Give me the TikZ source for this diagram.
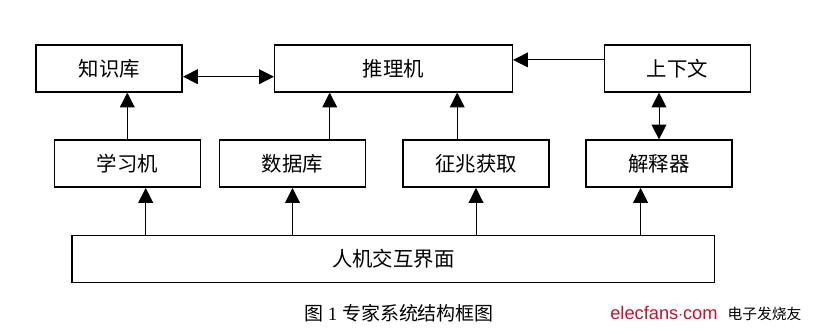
\documentclass[tikz,border=0pt]{standalone}
\usepackage{fontspec}
\setmainfont{Liberation Serif}
\newfontfamily\cjk{Noto Sans CJK SC}
\newfontfamily\wmsans{Liberation Sans}
\usetikzlibrary{arrows.meta}
\definecolor{wmred}{RGB}{200,16,46}

\begin{document}
\begin{tikzpicture}[x=0.025cm, y=-0.025cm,
    box/.style={draw, line width=1.1pt, minimum width=3.65cm, minimum height=1.175cm, inner sep=0pt, font=\cjk\fontsize{14.5}{17}\selectfont},
    arr/.style={line width=0.7pt, -{Triangle[length=0.37cm, width=0.37cm]}},
    darr/.style={line width=0.7pt, {Triangle[length=0.37cm, width=0.37cm]}-{Triangle[length=0.37cm, width=0.37cm]}}]
    \useasboundingbox (0, 0) rectangle (813, 334);
    \node[box] (zsk) at (109.2, 68.3) {知识库};
    \node[box, minimum width=5.94cm] (tlj) at (393.5, 68.3) {推理机};
    \node[box] (sxw) at (677.3, 68.3) {上下文};
    \node[box] (xxj) at (127.3, 163.7) {学习机};
    \node[box] (sjk) at (292.5, 163.7) {数据库};
    \node[box] (zzh) at (476, 163.7) {征兆获取};
    \node[box] (jsq) at (659, 163.7) {解释器};
    \node[box, minimum width=16.05cm] (rjj) at (393.3, 259.2) {人机交互界面};
    \draw[darr] ([yshift=-0.21cm]zsk.east) -- ([yshift=-0.21cm]tlj.west);
    \draw[arr] ([yshift=0.21cm]sxw.west) -- ([yshift=0.21cm]tlj.east);
    \draw[arr] (xxj.north) -- (xxj.north |- zsk.south);
    \coordinate (s1) at ([xshift=0.93cm]sjk.north);
    \draw[arr] (s1) -- (s1 |- tlj.south);
    \coordinate (z1) at ([xshift=-0.47cm]zzh.north);
    \draw[arr] (z1) -- (z1 |- tlj.south);
    \draw[darr] (jsq.north) -- (jsq.north |- sxw.south);
    \coordinate (b1) at ([xshift=0.46cm]xxj.south);
    \draw[arr] (b1 |- rjj.north) -- (b1);
    \draw[arr] (sjk.south |- rjj.north) -- (sjk.south);
    \draw[arr] (zzh.south |- rjj.north) -- (zzh.south);
    \coordinate (b4) at ([xshift=-0.46cm]jsq.south);
    \draw[arr] (b4 |- rjj.north) -- (b4);
    \node[font=\fontsize{13.5}{16}\selectfont] (cap) at (399, 313) {{\cjk 图} 1 {\cjk 专家系统结构框图}};
    \node[anchor=west, inner sep=0pt] (wm) at (610, 313) {{\wmsans\fontsize{13}{15}\selectfont\color{wmred}elecfans$\cdot$com}\hspace{0.25cm}{\cjk\fontsize{10.5}{12}\selectfont 电子发烧友}};
\end{tikzpicture}
\end{document}
